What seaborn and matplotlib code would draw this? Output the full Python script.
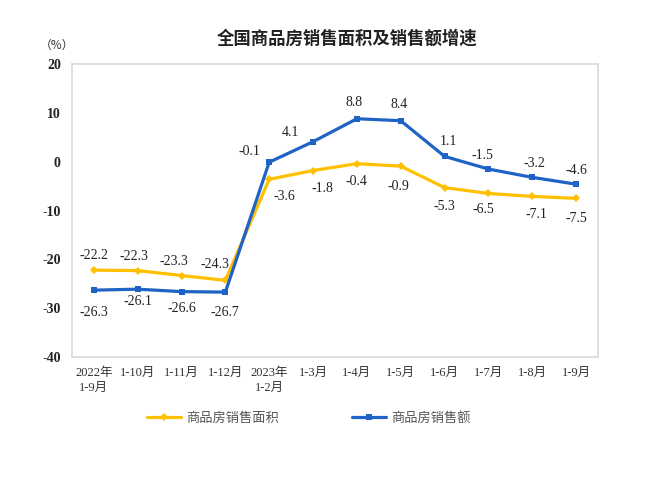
import numpy as np
import pandas as pd
import matplotlib
matplotlib.use("Agg")
import matplotlib.pyplot as plt
import seaborn as sns

# data
months = ["2022年\n1-9月", "1-10月", "1-11月", "1-12月", "2023年\n1-2月", "1-3月",
          "1-4月", "1-5月", "1-6月", "1-7月", "1-8月", "1-9月"]
area_growth = [-22.2, -22.3, -23.3, -24.3, -3.6, -1.8, -0.4, -0.9, -5.3, -6.5, -7.1, -7.5]
sales_growth = [-26.3, -26.1, -26.6, -26.7, -0.1, 4.1, 8.8, 8.4, 1.1, -1.5, -3.2, -4.6]
area_name = "商品房销售面积"
sales_name = "商品房销售额"

# label offsets in pixels (dx, dy)
area_offsets = [(0, 15), (-4, 14), (-8, 14), (-10, 16), (15, -17), (9, -18),
                (0, -18), (-2, -20), (0, -19), (-5, -16), (4, -18), (0, -20)]
sales_offsets = [(0, -22), (0, -12), (0, -17), (0, -20), (-20, 11), (-23, 9),
                 (-3, 16), (-2, 16), (4, 15), (-6, 14), (2, 14), (0, 14)]

YELLOW = "#FFC000"
BLUE = "#1F63C6"
GREY = "#d9d9d9"

sns.set_theme(style="white")
plt.rcParams["font.family"] = ["Liberation Serif", "Noto Sans CJK SC", "DejaVu Sans"]
plt.rcParams["axes.unicode_minus"] = False

df = pd.DataFrame({
    "pos": np.arange(len(months)),
    area_name: area_growth,
    sales_name: sales_growth,
})

fig = plt.figure(figsize=(6.6, 4.78), dpi=100)
ax = fig.add_axes([0.109, 0.253, 0.797, 0.613])

sns.lineplot(data=df, x="pos", y=area_name, ax=ax, color=YELLOW, lw=2.3,
             marker="D", markersize=4.5, markeredgewidth=0, label=area_name)
sns.lineplot(data=df, x="pos", y=sales_name, ax=ax, color=BLUE, lw=2.3,
             marker="s", markersize=4.5, markeredgewidth=0, label=sales_name)

for i, v in enumerate(area_growth):
    ax.annotate(f"{v:.1f}", xy=(i, v), xytext=area_offsets[i], textcoords="offset pixels",
                ha="center", va="center", fontsize=10, color="#222222")
for i, v in enumerate(sales_growth):
    ax.annotate(f"{v:.1f}", xy=(i, v), xytext=sales_offsets[i], textcoords="offset pixels",
                ha="center", va="center", fontsize=10, color="#222222")

ax.set_xlim(-0.5, len(months) - 0.5)
ax.set_ylim(-40, 20)
ax.set_yticks(np.arange(-40, 21, 10))
ax.set_xticks(df["pos"])
ax.set_xticklabels(months, fontsize=9, color="#333333", linespacing=1.3, va="top")
ax.set_xticks(np.arange(0.5, len(months) - 1, 1), minor=True)
ax.tick_params(axis="x", which="major", length=0, pad=7)
ax.tick_params(axis="x", which="minor", direction="in", length=4, color="#bfbfbf", width=1)
ax.tick_params(axis="y", direction="in", length=4, color="#bfbfbf", pad=8, labelsize=10,
               labelcolor="#222222")
for lab in ax.get_yticklabels():
    lab.set_fontweight("bold")
ax.set_xlabel("")
ax.set_ylabel("")
for s in ax.spines.values():
    s.set_color(GREY)
    s.set_linewidth(1.2)
ax.grid(False)

ax.get_legend().remove()
handles, labels = ax.get_legend_handles_labels()
fig.legend(handles, labels, loc="center", bbox_to_anchor=(0.468, 0.125), ncol=2, frameon=False,
           handlelength=2.6, columnspacing=5.5, handletextpad=0.4,
           prop={"family": "Noto Sans CJK SC", "size": 9.5}, labelcolor="#555555")

fig.text(0.526, 0.92, "全国商品房销售面积及销售额增速", ha="center", va="center",
         fontsize=12.5, fontweight="bold", family="Noto Sans CJK SC", color="#222222")
fig.text(0.087, 0.905, "（%）", ha="center", va="center", fontsize=8.5, color="#333333",
         family=["Noto Sans CJK SC", "DejaVu Sans"])

fig.savefig("out.png", dpi=100)
